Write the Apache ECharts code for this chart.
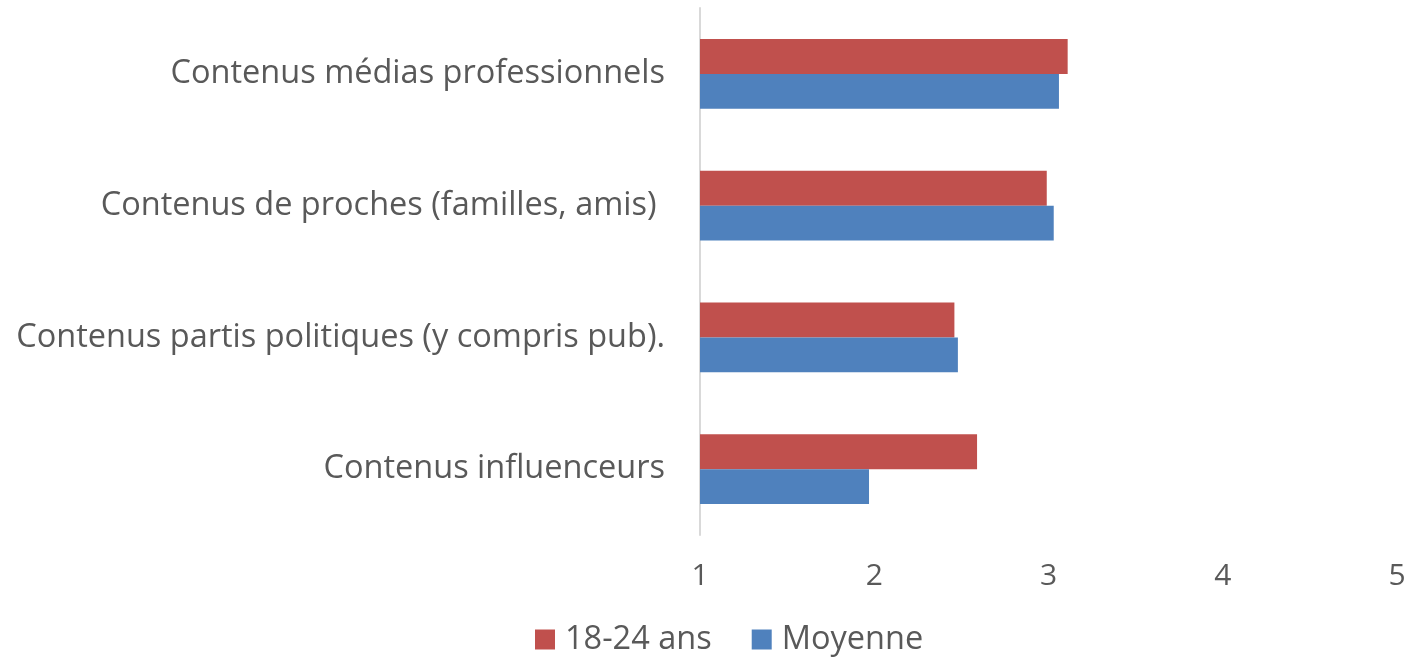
<!DOCTYPE html>
<html>
<head>
<meta charset="utf-8">
<script src="https://cdn.jsdelivr.net/npm/echarts@6/dist/echarts.min.js"></script>
<style>
  html, body { margin: 0; padding: 0; background: #fff; }
  #container { width: 1417px; height: 660px; }
</style>
</head>
<body>
<div id="container"></div>
<script>
var categories = [
    'Contenus médias professionnels',
    'Contenus de proches (familles, amis) ',
    'Contenus partis politiques (y compris pub).',
    'Contenus influenceurs'
];
var jeunes = [3.11, 2.99, 2.46, 2.59];   // 18-24 ans
var moyenne = [3.06, 3.03, 2.48, 1.97];  // Moyenne
var xTicks = [1, 2, 3, 4, 5];

var myChart = echarts.init(document.getElementById('container'));
var textColor = '#595959';
var font = 'Open Sans';

var option = {
    animation: false,
    legend: {
        top: 618,
        left: 530,
        icon: 'rect',
        itemWidth: 20,
        itemHeight: 20,
        itemGap: 40,
        textStyle: { color: textColor, fontSize: 32.5, fontFamily: font, padding: [0, 0, 0, 5] },
        data: ['18-24 ans', 'Moyenne']
    },
    grid: { left: 700, right: 20, top: 8, bottom: 125 },
    xAxis: {
        type: 'value',
        min: xTicks[0],
        max: xTicks[xTicks.length - 1],
        interval: 1,
        axisLine: { show: false },
        axisTick: { show: false },
        splitLine: { show: false },
        axisLabel: { color: textColor, fontSize: 30, fontFamily: font, margin: 26 }
    },
    yAxis: {
        type: 'category',
        inverse: true,
        data: categories,
        axisLine: { show: true, lineStyle: { color: '#d9d9d9', width: 2 } },
        axisTick: { show: false },
        axisLabel: { color: textColor, fontSize: 32.5, fontFamily: font, margin: 35 }
    },
    series: [
        {
            name: '18-24 ans',
            type: 'bar',
            data: jeunes,
            barGap: '0%',
            barCategoryGap: '47%',
            itemStyle: { color: '#C0504D' }
        },
        {
            name: 'Moyenne',
            type: 'bar',
            data: moyenne,
            itemStyle: { color: '#4F81BD' }
        }
    ]
};
myChart.setOption(option);
</script>
</body>
</html>
